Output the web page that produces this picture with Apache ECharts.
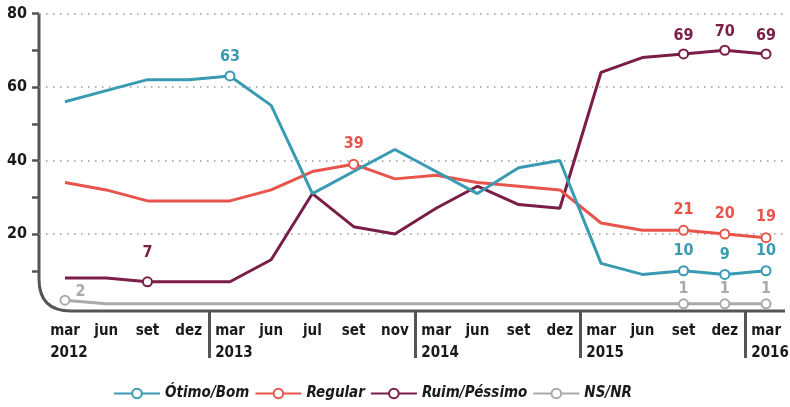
<!DOCTYPE html>
<html>
<head>
<meta charset="utf-8">
<script src="https://cdn.jsdelivr.net/npm/echarts@6/dist/echarts.min.js"></script>
<style>
  html, body { margin: 0; padding: 0; background: #fff; }
  #chart { width: 790px; height: 407px; }
</style>
</head>
<body>
<div id="chart"></div>
<script>
  // dados
  var categories = ['mar','jun','set','dez','mar','jun','jul','set','nov','mar','jun','set','dez','mar','jun','set','dez','mar'];
  var years = ['2012','','','','2013','','','','','2014','','','','2015','','','','2016'];
  var otimo = [56,59,62,62,63,55,31,37,43,37,31,38,40,12,9,10,9,10];
  var regular = [34,32,29,29,29,32,37,39,35,36,34,33,32,23,21,21,20,19];
  var ruim = [8,8,7,7,7,13,31,22,20,27,33,28,27,64,68,69,70,69];
  var nsnr = [2,1,1,1,1,1,1,1,1,1,1,1,1,1,1,1,1,1];
  var yTicks = [10,20,30,40,50,60,70,80];
  var yLabels = [20,40,60,80];
  var yearBreaks = [3.5, 8.5, 12.5, 16.5];
  // pontos marcados (indices)
  var markOtimo = [4,15,16,17];
  var markRegular = [7,15,16,17];
  var markRuim = [2,15,16,17];
  var markNsnr = [0,15,16,17];

  var font = "'DejaVu Sans Condensed', 'Liberation Sans Narrow', sans-serif";
  var ink = '#1a1a1a';
  var axisColor = '#555';
  var xMin = -0.63, xMax = 17.46;
  var gLeft = 39, gRight = 5, gTop = 13.5, gBottom = 99.5;

  function build(vals, marks, dist, special) {
    return vals.map(function (v, i) {
      if (marks.indexOf(i) < 0) {
        return { value: [i, v], symbol: 'none' };
      }
      var lab = { show: true, distance: dist };
      if (special && special[i]) {
        Object.assign(lab, special[i]);
      }
      return { value: [i, v], label: lab };
    });
  }

  function line(name, color, data) {
    return {
      name: name,
      type: 'line',
      symbol: 'emptyCircle',
      symbolSize: 9,
      showSymbol: true,
      lineStyle: { color: color, width: 3 },
      itemStyle: { color: color, borderWidth: 1.5 },
      label: {
        show: false,
        position: 'top',
        color: color,
        fontFamily: font,
        fontWeight: 'bold',
        fontSize: 16
      },
      emphasis: { disabled: true },
      data: data
    };
  }

  var dom = document.getElementById('chart');
  var myChart = echarts.init(dom);

  var option = {
    animation: false,
    grid: { left: gLeft, right: gRight, top: gTop, bottom: gBottom, outerBoundsMode: 'none', containLabel: false },
    legend: {
      left: 108,
      top: 381,
      itemWidth: 46,
      itemHeight: 12,
      itemGap: 5,
      textStyle: { color: ink, fontFamily: font, fontWeight: 'bold', fontStyle: 'italic', fontSize: 15 },
      data: ['Ótimo/Bom', 'Regular', 'Ruim/Péssimo', 'NS/NR']
    },
    xAxis: {
      type: 'value',
      min: xMin,
      max: xMax,
      offset: 3.5,
      axisLine: { show: false, onZero: false },
      splitLine: { show: false },
      axisTick: {
        show: true,
        customValues: yearBreaks,
        length: 47,
        lineStyle: { color: axisColor, width: 3 }
      },
      axisLabel: {
        customValues: categories.map(function (c, i) { return i; }),
        margin: 9,
        hideOverlap: false,
        color: ink,
        fontFamily: font,
        fontWeight: 'bold',
        fontSize: 15,
        lineHeight: 22,
        formatter: function (v) {
          var i = Math.round(v);
          if (years[i]) {
            return '{l|' + categories[i] + '}\n{l|' + years[i] + '}';
          }
          return categories[i];
        },
        rich: {
          l: { align: 'left', color: ink, fontFamily: font, fontWeight: 'bold', fontSize: 15, lineHeight: 22, padding: [0, 0, 0, 8] }
        }
      }
    },
    yAxis: [
      {
        type: 'value',
        min: 0,
        max: 80,
        interval: 20,
        axisLine: { show: false, onZero: false },
        axisTick: {
          show: true,
          customValues: yTicks,
          length: 7,
          lineStyle: { color: axisColor, width: 2.5 }
        },
        axisLabel: {
          customValues: yLabels,
          margin: 12,
          color: ink,
          fontFamily: font,
          fontWeight: 'bold',
          fontSize: 16
        },
        splitLine: { show: false }
      },
      {
        // só as linhas pontilhadas de 20 em 20
        type: 'value',
        position: 'left',
        min: 0,
        max: 80,
        interval: 20,
        axisLine: { show: false, onZero: false },
        axisTick: { show: false },
        axisLabel: { show: false },
        splitLine: {
          show: true,
          showMinLine: false,
          lineStyle: { color: '#999', width: 1.5, type: [1.5, 5.5] }
        }
      }
    ],
    series: [
      line('NS/NR', '#aaaaaa', build(nsnr, markNsnr, 1, { 0: { position: 'right', distance: 5, offset: [0, -8] } })),
      line('Ruim/Péssimo', '#7a1e48', build(ruim, markRuim, 5, { 2: { distance: 15 } })),
      line('Regular', '#e8544c', build(regular, markRegular, 7)),
      line('Ótimo/Bom', '#389bb2', build(otimo, markOtimo, 6))
    ]
  };

  // moldura dos eixos com canto arredondado (segue a grade)
  var W = 790, H = 407, r = 32;
  var fl = gLeft, ft = gTop, fb = H - gBottom + 3.5, fr = W - gRight;
  var frameStyle = { stroke: axisColor, lineWidth: 3, fill: 'none' };
  option.graphic = [
    { type: 'line', silent: true, shape: { x1: fl, y1: ft, x2: fl, y2: fb - r }, style: frameStyle },
    { type: 'bezierCurve', silent: true, shape: { x1: fl, y1: fb - r, cpx1: fl, cpy1: fb, x2: fl + r, y2: fb }, style: frameStyle },
    { type: 'line', silent: true, shape: { x1: fl + r, y1: fb, x2: fr, y2: fb }, style: frameStyle }
  ];

  myChart.setOption(option);
</script>
</body>
</html>
